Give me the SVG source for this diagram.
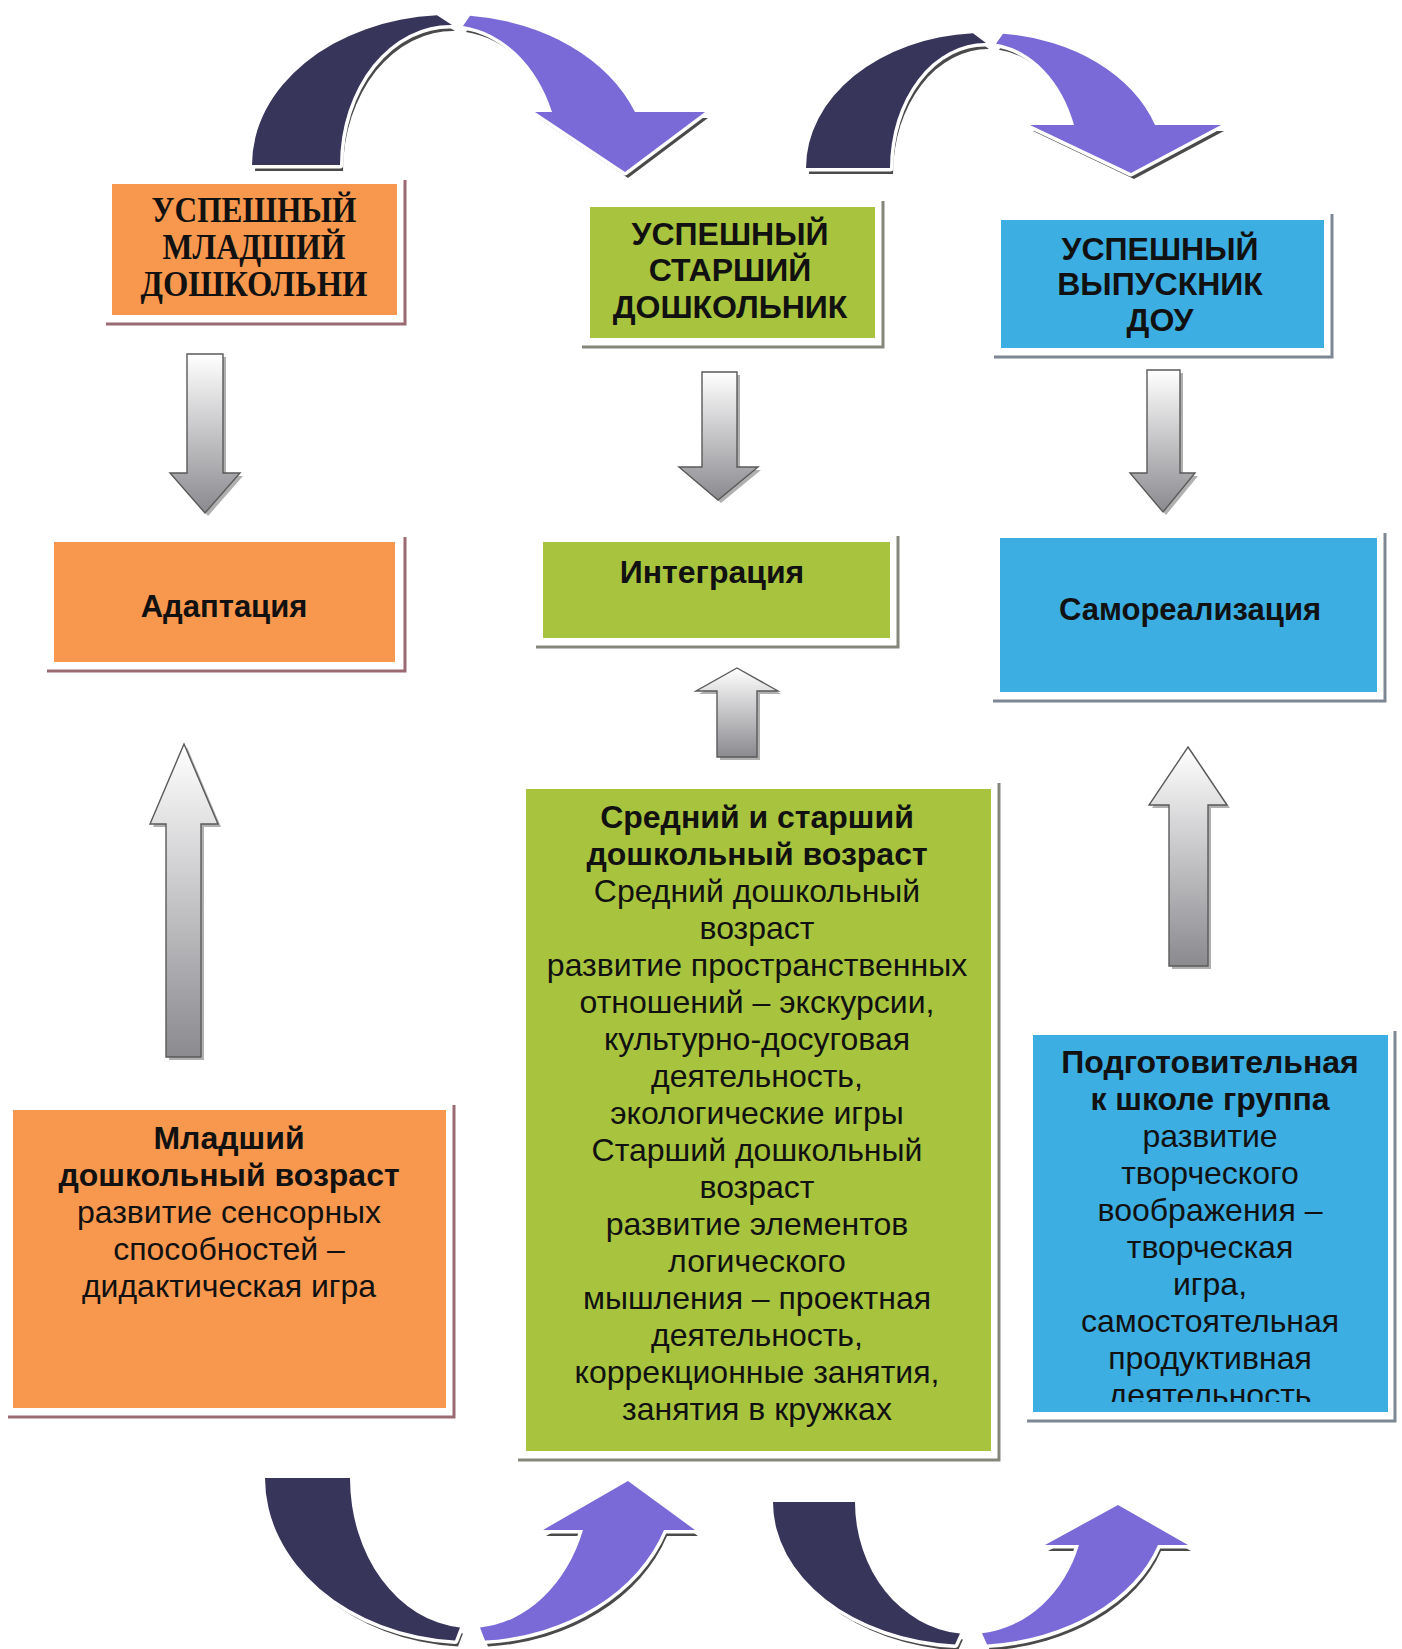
<svg xmlns="http://www.w3.org/2000/svg" width="1402" height="1649" viewBox="0 0 1402 1649">
<style>
  .bg{fill:#ffffff}
  .orange{fill:#F8984F}
  .green{fill:#A8C43E}
  .blue{fill:#3CAEE2}
  .shO{fill:none;stroke:#9a6a72;stroke-width:3}
  .shG{fill:none;stroke:#85877a;stroke-width:3}
  .shB{fill:none;stroke:#7d8894;stroke-width:3}
  .t{font-family:"Liberation Sans",Arial,sans-serif;fill:#111;text-anchor:middle}
  .tb{font-weight:bold}
  .ts{font-family:"Liberation Serif","Times New Roman",serif;font-weight:bold;fill:#111;text-anchor:middle;font-size:36px}
  .garrow{fill:url(#gGray);stroke:#5a5a5a;stroke-width:1.4}
  .gshadow{fill:#b0b0b0}
  .dark{fill:#38355A;stroke:#ffffff;stroke-width:7;paint-order:stroke;stroke-linejoin:round}
  .purple{fill:#7A6AD8;stroke:#ffffff;stroke-width:7;paint-order:stroke;stroke-linejoin:round}
  .ashadow{fill:#4a4a4a}
</style>
<defs>
  <linearGradient id="gGray" x1="0" y1="0" x2="0" y2="1">
    <stop offset="0" stop-color="#ffffff"/>
    <stop offset="1" stop-color="#8a8a8f"/>
  </linearGradient>
  <clipPath id="clipBlue">
    <rect x="1033" y="1035" width="355" height="367"/>
  </clipPath>
</defs>
<rect class="bg" x="0" y="0" width="1402" height="1649"/>

<g id="connectors">
  <g id="arch-top-1">
    <g class="ashadow" transform="translate(3,6)">
      <path d="M252,165 A198,150 0 0 1 437,15.3 L452,25 A110,140 0 0 0 340,165 Z"/>
      <path d="M470,15.8 A198,150 0 0 1 635,112 L705,112 L625,172 L535,112 L552,112 A110,140 0 0 0 463,26 Z"/>
    </g>
    <path class="dark" d="M252,165 A198,150 0 0 1 437,15.3 L452,25 A110,140 0 0 0 340,165 Z"/>
    <path class="purple" d="M470,15.8 A198,150 0 0 1 635,112 L705,112 L625,172 L535,112 L552,112 A110,140 0 0 0 463,26 Z"/>
  </g>
  <g id="arch-top-2">
    <g class="ashadow" transform="translate(3,6)">
      <path d="M806,168 A179,135 0 0 1 973,33.3 L986,43 A95,125 0 0 0 890,168 Z"/>
      <path d="M1003,33.7 A179,135 0 0 1 1155,125 L1221,125 L1131,173 L1030,125 L1074,125 A95,125 0 0 0 996,43.8 Z"/>
    </g>
    <path class="dark" d="M806,168 A179,135 0 0 1 973,33.3 L986,43 A95,125 0 0 0 890,168 Z"/>
    <path class="purple" d="M1003,33.7 A179,135 0 0 1 1155,125 L1221,125 L1131,173 L1030,125 L1074,125 A95,125 0 0 0 996,43.8 Z"/>
  </g>
  <g id="arch-bottom-1">
    <g class="ashadow" transform="translate(3,6)">
      <path d="M265,1478 A205,163 0 0 0 455,1640.6 L460,1627.5 A120,150 0 0 1 350,1478 Z"/>
      <path d="M485,1640.6 A205,163 0 0 0 664,1530 L695,1530 L628,1481 L543,1530 L583,1530 A120,150 0 0 1 480,1627.5 Z"/>
    </g>
    <path class="dark" d="M265,1478 A205,163 0 0 0 455,1640.6 L460,1627.5 A120,150 0 0 1 350,1478 Z"/>
    <path class="purple" d="M485,1640.6 A205,163 0 0 0 664,1530 L695,1530 L628,1481 L543,1530 L583,1530 A120,150 0 0 1 480,1627.5 Z"/>
  </g>
  <g id="arch-bottom-2">
    <g class="ashadow" transform="translate(3,6)">
      <path d="M773,1502 A197,143 0 0 0 955,1644.6 L960,1633.5 A115,132 0 0 1 855,1502 Z"/>
      <path d="M987,1644.5 A197,143 0 0 0 1158,1545 L1188,1545 L1118,1505 L1045,1545 L1079,1545 A115,132 0 0 1 982,1633.3 Z"/>
    </g>
    <path class="dark" d="M773,1502 A197,143 0 0 0 955,1644.6 L960,1633.5 A115,132 0 0 1 855,1502 Z"/>
    <path class="purple" d="M987,1644.5 A197,143 0 0 0 1158,1545 L1188,1545 L1118,1505 L1045,1545 L1079,1545 A115,132 0 0 1 982,1633.3 Z"/>
  </g>
  <g id="down-arrow-1">
    <path class="gshadow" transform="translate(3,3)" d="M187,354 H223 V473 H240 L205,513 L170,473 H187 Z"/>
    <path class="garrow" d="M187,354 H223 V473 H240 L205,513 L170,473 H187 Z"/>
  </g>
  <g id="down-arrow-2">
    <path class="gshadow" transform="translate(3,3)" d="M702,372 H737 V467 H758 L718,500 L679,467 H702 Z"/>
    <path class="garrow" d="M702,372 H737 V467 H758 L718,500 L679,467 H702 Z"/>
  </g>
  <g id="down-arrow-3">
    <path class="gshadow" transform="translate(3,3)" d="M1147,370 H1180 V473 H1195 L1163,512 L1130,473 H1147 Z"/>
    <path class="garrow" d="M1147,370 H1180 V473 H1195 L1163,512 L1130,473 H1147 Z"/>
  </g>
  <g id="up-arrow-1">
    <path class="gshadow" transform="translate(3,3)" d="M184,744 L218,824 H201 V1057 H166 V824 H150 Z"/>
    <path class="garrow" d="M184,744 L218,824 H201 V1057 H166 V824 H150 Z"/>
  </g>
  <g id="up-arrow-2">
    <path class="gshadow" transform="translate(3,3)" d="M737,668 L778,691 H757 V757 H717 V691 H696 Z"/>
    <path class="garrow" d="M737,668 L778,691 H757 V757 H717 V691 H696 Z"/>
  </g>
  <g id="up-arrow-3">
    <path class="gshadow" transform="translate(3,3)" d="M1188,747 L1227,805 H1208 V966 H1169 V805 H1149 Z"/>
    <path class="garrow" d="M1188,747 L1227,805 H1208 V966 H1169 V805 H1149 Z"/>
  </g>
</g>

<g id="node-junior-success">
  <polyline class="shO" points="405,180 405,324 106,324"/>
  <rect class="orange" x="112" y="184" width="285" height="131"/>
  <text class="ts" x="254" y="222" textLength="205" lengthAdjust="spacingAndGlyphs">УСПЕШНЫЙ</text>
  <text class="ts" x="254" y="259" textLength="183" lengthAdjust="spacingAndGlyphs">МЛАДШИЙ</text>
  <text class="ts" x="254" y="296" textLength="227" lengthAdjust="spacingAndGlyphs">ДОШКОЛЬНИ</text>
</g>

<g id="node-senior-success">
  <polyline class="shG" points="883,201 883,347 582,347"/>
  <rect class="green" x="590" y="207" width="285" height="131"/>
  <g class="t tb" font-size="32">
    <text x="730" y="245">УСПЕШНЫЙ</text>
    <text x="730" y="281">СТАРШИЙ</text>
    <text x="730" y="318">ДОШКОЛЬНИК</text>
  </g>
</g>

<g id="node-graduate-success">
  <polyline class="shB" points="1332,214 1332,357 994,357"/>
  <rect class="blue" x="1001" y="220" width="323" height="128"/>
  <g class="t tb" font-size="32">
    <text x="1160" y="260">УСПЕШНЫЙ</text>
    <text x="1160" y="295">ВЫПУСКНИК</text>
    <text x="1160" y="331">ДОУ</text>
  </g>
</g>

<g id="node-adaptation">
  <polyline class="shO" points="405,537 405,671 47,671"/>
  <rect class="orange" x="54" y="542" width="341" height="120"/>
  <text class="t tb" font-size="31" x="224" y="617">Адаптация</text>
</g>

<g id="node-integration">
  <polyline class="shG" points="898,536 898,647 536,647"/>
  <rect class="green" x="543" y="542" width="347" height="96"/>
  <text class="t tb" font-size="32" x="712" y="583">Интеграция</text>
</g>

<g id="node-selfrealization">
  <polyline class="shB" points="1385,533 1385,701 993,701"/>
  <rect class="blue" x="1000" y="538" width="377" height="154"/>
  <text class="t tb" font-size="31" x="1190" y="620">Самореализация</text>
</g>

<g id="node-junior-age">
  <polyline class="shO" points="454,1105 454,1417 8,1417"/>
  <rect class="orange" x="13" y="1110" width="433" height="298"/>
  <g class="t" font-size="32">
    <text class="tb" x="229" y="1149">Младший</text>
    <text class="tb" x="229" y="1186">дошкольный возраст</text>
    <text x="229" y="1223">развитие сенсорных</text>
    <text x="229" y="1260">способностей –</text>
    <text x="229" y="1297">дидактическая игра</text>
  </g>
</g>

<g id="node-middle-senior-age">
  <polyline class="shG" points="999,783 999,1460 518,1460"/>
  <rect class="green" x="526" y="789" width="465" height="662"/>
  <g class="t" font-size="32">
    <text class="tb" x="757" y="828">Средний и старший</text>
    <text class="tb" x="757" y="865">дошкольный возраст</text>
    <text x="757" y="902">Средний дошкольный</text>
    <text x="757" y="939">возраст</text>
    <text x="757" y="976">развитие пространственных</text>
    <text x="757" y="1013">отношений – экскурсии,</text>
    <text x="757" y="1050">культурно-досуговая</text>
    <text x="757" y="1087">деятельность,</text>
    <text x="757" y="1124">экологические игры</text>
    <text x="757" y="1161">Старший дошкольный</text>
    <text x="757" y="1198">возраст</text>
    <text x="757" y="1235">развитие элементов</text>
    <text x="757" y="1272">логического</text>
    <text x="757" y="1309">мышления – проектная</text>
    <text x="757" y="1346">деятельность,</text>
    <text x="757" y="1383">коррекционные занятия,</text>
    <text x="757" y="1420">занятия в кружках</text>
  </g>
</g>

<g id="node-preparatory">
  <polyline class="shB" points="1395,1031 1395,1421 1027,1421"/>
  <rect class="blue" x="1033" y="1035" width="355" height="377"/>
  <g class="t" font-size="32" clip-path="url(#clipBlue)">
    <text class="tb" x="1210" y="1073">Подготовительная</text>
    <text class="tb" x="1210" y="1110">к школе группа</text>
    <text x="1210" y="1147">развитие</text>
    <text x="1210" y="1184">творческого</text>
    <text x="1210" y="1221">воображения –</text>
    <text x="1210" y="1258">творческая</text>
    <text x="1210" y="1295">игра,</text>
    <text x="1210" y="1332">самостоятельная</text>
    <text x="1210" y="1369">продуктивная</text>
    <text x="1210" y="1406">деятельность</text>
  </g>
</g>
</svg>
